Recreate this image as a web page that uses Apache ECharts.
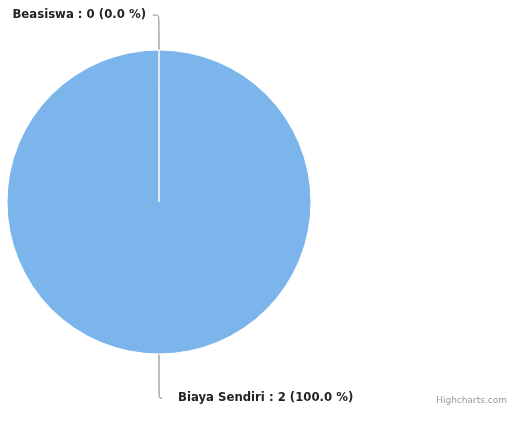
<!DOCTYPE html>
<html>
<head>
<meta charset="utf-8">
<script src="https://cdn.jsdelivr.net/npm/echarts@6/dist/echarts.min.js"></script>
<style>
html,body{margin:0;padding:0;background:#fff;}
#chart{width:519px;height:430px;}
</style>
</head>
<body>
<div id="chart"></div>
<script>
const categories = ["Biaya Sendiri", "Beasiswa"];
const values = [2, 0];
const sliceColors = ["#7cb5ec", "#434348"];
const creditText = "Highcharts.com";

const labelLines = [
  { length: 44, length2: 3, dist: 16 },
  { length: 35, length2: 6, dist: 7 }
];

const chart = echarts.init(document.getElementById('chart'), null, { renderer: 'canvas' });

const data = categories.map((name, i) => ({
  name: name,
  value: values[i],
  itemStyle: { color: sliceColors[i] },
  labelLine: { length: labelLines[i].length, length2: labelLines[i].length2 },
  label: { distanceToLabelLine: labelLines[i].dist }
}));

chart.setOption({
  animation: false,
  title: {
    text: creditText,
    right: 7,
    bottom: 20,
    textStyle: { fontSize: 9, fontWeight: 'normal', color: '#999', fontFamily: 'DejaVu Sans' }
  },
  series: [{
    type: 'pie',
    center: [159, 202],
    radius: [0, 152],
    startAngle: 90.01,
    clockwise: true,
    avoidLabelOverlap: false,
    minAngle: 0,
    itemStyle: { borderColor: '#ffffff', borderWidth: 1 },
    label: {
      show: true,
      position: 'outside',
      color: '#222',
      fontSize: 11.7,
      fontWeight: 'bold',
      fontFamily: 'DejaVu Sans',
      formatter: function (p) {
        return p.name + ' : ' + p.value + ' (' + p.percent.toFixed(1) + ' %)';
      }
    },
    labelLine: {
      show: true,
      smooth: 0.3,
      lineStyle: { color: '#7a7a7a', width: 1 }
    },
    emphasis: { disabled: true },
    data: data
  }]
});
</script>
</body>
</html>
